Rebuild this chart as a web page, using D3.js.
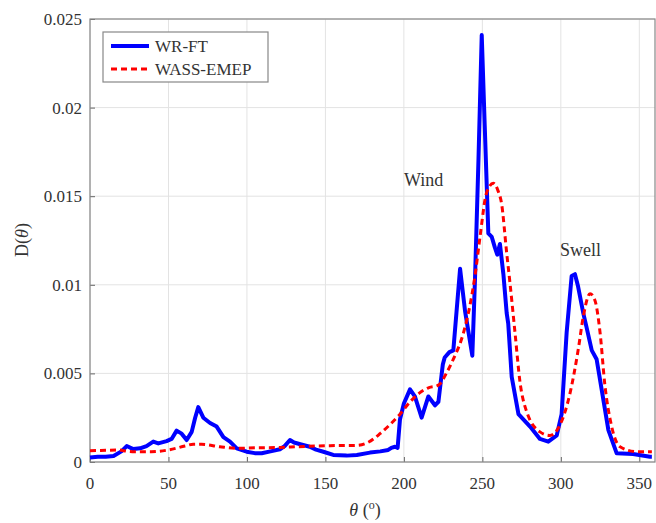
<!DOCTYPE html>
<html>
<head>
<meta charset="utf-8">
<script src="https://cdn.jsdelivr.net/npm/d3@7"></script>
<style>
  body { margin: 0; background: #fff; }
  svg { display: block; font-family: "Liberation Serif", "Times New Roman", serif; }
</style>
</head>
<body>
<svg id="chart" width="656" height="523"></svg>
<script>
// WR-FT (blue): [theta, D]
const wrTheta = [0, 5, 10, 15, 20, 23.4, 27.6, 31.9, 36, 40.3, 43.5, 48.8, 52, 55.2, 58.4, 61.6, 64.8, 67, 69, 72.2,
  76.5, 80.7, 85, 89.2, 93.5, 99.8, 105, 109.4, 115, 121, 124, 127.4, 130, 134, 140, 144, 148.7, 155, 163.5, 170,
  178.4, 185, 190, 192, 194.3, 196, 197.5, 200, 203.9, 207, 211.3, 215.6, 219.8, 222, 224.8, 226, 229, 231.5, 235.8, 239,
  243.6, 245.3, 247.5, 249.6, 251.5, 253.8, 256, 258, 259.5, 261.2, 263.4, 265.5, 266.5, 268.7, 273, 280.4, 286.7, 292, 297.4, 300.5,
  303.7, 306.9, 309, 311, 314.3, 316.4, 319.7, 322.8, 326, 330.3, 335.6, 346, 356.8, 358];
const wrValues = [0.00026, 0.0003, 0.0003, 0.00034, 0.0006, 0.0009, 0.00073, 0.00077, 0.0009, 0.00115, 0.00105, 0.00118, 0.0013, 0.00177, 0.0016, 0.00124, 0.0017, 0.0025, 0.0031, 0.0025,
  0.0022, 0.002, 0.0014, 0.00115, 0.00077, 0.00058, 0.0005, 0.00049, 0.0006, 0.00072, 0.0009, 0.00124, 0.0011, 0.001, 0.00086, 0.0007, 0.00058, 0.0004, 0.00036, 0.0004,
  0.00053, 0.0006, 0.00068, 0.0008, 0.00086, 0.0008, 0.0024, 0.0033, 0.0041, 0.0037, 0.0025, 0.0037, 0.0032, 0.0034, 0.0055, 0.0059, 0.0062, 0.0063, 0.0109, 0.0085,
  0.006, 0.0103, 0.017, 0.0241, 0.019, 0.0129, 0.0127, 0.0121, 0.0117, 0.0123, 0.0106, 0.0084, 0.0078, 0.0048, 0.0027, 0.002, 0.0013, 0.00115, 0.0015, 0.0027,
  0.0073, 0.0105, 0.0106, 0.0099, 0.0084, 0.0076, 0.0063, 0.0058, 0.0041, 0.0018, 0.00049, 0.00045, 0.0003, 0.0003];

// WASS-EMEP (red dashed)
const wassTheta = [0, 10, 18, 24, 28.7, 39, 50, 60.5, 65.8, 71, 82.8, 93.5, 105, 121, 131.7, 153, 170, 177, 184.8, 191,
  197.5, 204, 210, 216, 221, 223, 227, 231.5, 238, 242, 245.3, 248.5, 252.7, 257, 260, 262.2, 265.5, 267.6, 270.8, 274,
  278, 286.7, 293, 299.5, 305.9, 311, 314.3, 318.6, 321.8, 325, 328, 332.4, 337.7, 348.3, 358];
const wassValues = [0.00064, 0.00066, 0.00068, 0.0006, 0.00058, 0.00058, 0.00068, 0.0009, 0.001, 0.001, 0.00086, 0.00077, 0.0008, 0.00082, 0.00086, 0.00092, 0.00094, 0.0011, 0.0016, 0.0021,
  0.0027, 0.0034, 0.0039, 0.0042, 0.0043, 0.0044, 0.005, 0.0058, 0.0073, 0.0088, 0.0105, 0.0127, 0.0152, 0.01573, 0.0153, 0.0146, 0.0118, 0.0101, 0.0073, 0.0045,
  0.0029, 0.0017, 0.0015, 0.0021, 0.0039, 0.0063, 0.0082, 0.0095, 0.0091, 0.0073, 0.0044, 0.002, 0.00086, 0.00058, 0.00058];

const xTicks = [0, 50, 100, 150, 200, 250, 300, 350];
const yTicks = [0, 0.005, 0.01, 0.015, 0.02, 0.025];
const yTickLabels = ['0', '0.005', '0.01', '0.015', '0.02', '0.025'];

const svg = d3.select('#chart');
const margin = { top: 19, right: 1, bottom: 61, left: 90 };
const width = 656;
const height = 523;
const innerWidth = width - margin.left - margin.right;
const innerHeight = height - margin.top - margin.bottom;

const plot = svg.append('g').attr('transform', `translate(${margin.left},${margin.top})`);

const x = d3.scaleLinear().domain([0, 360]).range([0, innerWidth]);
const y = d3.scaleLinear().domain([0, 0.025]).range([innerHeight, 0]);

// grid
plot.append('g')
  .selectAll('line')
  .data(xTicks)
  .join('line')
  .attr('x1', d => x(d)).attr('x2', d => x(d))
  .attr('y1', 0).attr('y2', innerHeight)
  .attr('stroke', '#e3e3e3').attr('stroke-width', 1);
plot.append('g')
  .selectAll('line')
  .data(yTicks)
  .join('line')
  .attr('x1', 0).attr('x2', innerWidth)
  .attr('y1', d => y(d)).attr('y2', d => y(d))
  .attr('stroke', '#e3e3e3').attr('stroke-width', 1);

// axes with inward ticks (labels drawn separately in serif)
const xAxis = plot.append('g')
  .attr('transform', `translate(0,${innerHeight})`)
  .call(d3.axisBottom(x).tickValues(xTicks).tickSize(-5).tickFormat(''));
const yAxis = plot.append('g')
  .call(d3.axisLeft(y).tickValues(yTicks).tickSize(-5).tickFormat(''));
[xAxis, yAxis].forEach(g => {
  g.select('.domain').remove();
  g.selectAll('.tick line').attr('stroke', '#666');
  g.selectAll('.tick text').remove();
});

plot.append('g')
  .selectAll('text')
  .data(xTicks)
  .join('text')
  .attr('x', d => x(d))
  .attr('y', innerHeight + 27)
  .attr('text-anchor', 'middle')
  .attr('font-size', 17)
  .attr('fill', '#333')
  .text(d => d);
plot.append('g')
  .selectAll('text')
  .data(yTicks)
  .join('text')
  .attr('x', -8)
  .attr('y', d => y(d) + 6)
  .attr('text-anchor', 'end')
  .attr('font-size', 17)
  .attr('fill', '#333')
  .text((d, i) => yTickLabels[i]);

// box
plot.append('rect')
  .attr('width', innerWidth).attr('height', innerHeight)
  .attr('fill', 'none').attr('stroke', '#888').attr('stroke-width', 1.2);

const wrData = wrTheta.map((t, i) => [t, wrValues[i]]);
const wassData = wassTheta.map((t, i) => [t, wassValues[i]]);

plot.append('path')
  .datum(wrData)
  .attr('fill', 'none')
  .attr('stroke', '#0000ff')
  .attr('stroke-width', 4)
  .attr('stroke-linejoin', 'round')
  .attr('d', d3.line().x(d => x(d[0])).y(d => y(d[1])));

plot.append('path')
  .datum(wassData)
  .attr('fill', 'none')
  .attr('stroke', '#ff0000')
  .attr('stroke-width', 3)
  .attr('stroke-dasharray', '6,4')
  .attr('d', d3.line().curve(d3.curveMonotoneX).x(d => x(d[0])).y(d => y(d[1])));

// annotations
svg.append('text').attr('x', 404).attr('y', 186).attr('font-size', 18).attr('fill', '#333').text('Wind');
svg.append('text').attr('x', 560).attr('y', 256).attr('font-size', 18).attr('fill', '#333').text('Swell');

// legend
const legend = svg.append('g').attr('transform', 'translate(103,32)');
legend.append('rect').attr('width', 165).attr('height', 50)
  .attr('fill', '#fff').attr('stroke', '#888').attr('stroke-width', 1.2);
const legendItems = [
  { label: 'WR-FT', color: '#0000ff', dash: null, w: 4 },
  { label: 'WASS-EMEP', color: '#ff0000', dash: '6,4', w: 3 }
];
legendItems.forEach((item, i) => {
  const yy = 14 + i * 23;
  legend.append('line')
    .attr('x1', 8).attr('x2', 46).attr('y1', yy).attr('y2', yy)
    .attr('stroke', item.color).attr('stroke-width', item.w)
    .attr('stroke-dasharray', item.dash);
  legend.append('text')
    .attr('x', 52).attr('y', yy + 6)
    .attr('font-size', 17).attr('fill', '#333')
    .text(item.label);
});

// axis labels
svg.append('text')
  .attr('transform', 'translate(28,240) rotate(-90)')
  .attr('text-anchor', 'middle')
  .attr('font-size', 18).attr('fill', '#333')
  .html('D(<tspan font-style="italic">θ</tspan>)');
svg.append('text')
  .attr('x', 365).attr('y', 516)
  .attr('text-anchor', 'middle')
  .attr('font-size', 18).attr('fill', '#333')
  .html('<tspan font-style="italic">θ</tspan> (<tspan font-size="12" dy="-7">o</tspan><tspan dy="7">)</tspan>');
</script>
</body>
</html>
